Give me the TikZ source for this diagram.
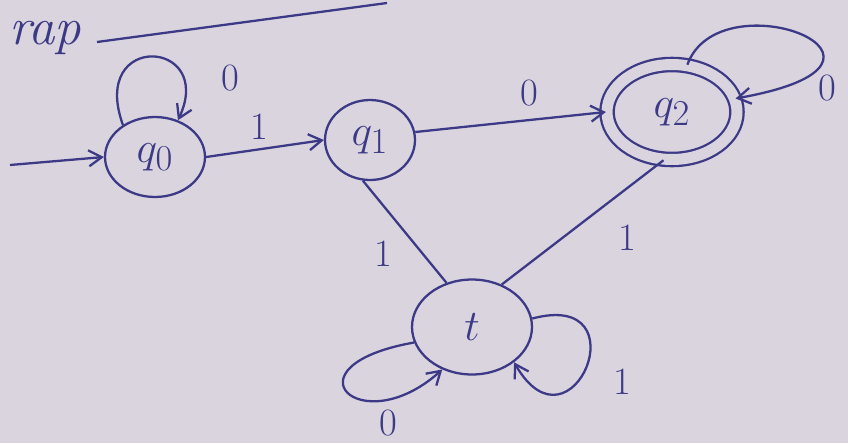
\documentclass[tikz,border=0pt]{standalone}
\usetikzlibrary{arrows.meta,positioning,shapes.geometric}
\definecolor{ink}{HTML}{3C3A86}
\definecolor{paper}{HTML}{D9D4DE}

\begin{document}
\begin{tikzpicture}[
    x=0.02cm, y=-0.02cm,
    >={Straight Barb[length=2.6mm,width=3.2mm]},
    line width=1.3pt,
    state/.style={draw=ink, shape=ellipse, text=ink, line width=1.3pt,
                  minimum width=2.0cm, minimum height=1.6cm, inner sep=0pt,
                  font=\fontsize{30}{36}\selectfont},
    accept/.style={state, double=paper, double distance=0.22cm},
    edge/.style={draw=ink, line width=1.3pt, ->},
    bare/.style={draw=ink, line width=1.3pt},
    lbl/.style={text=ink, inner sep=1pt, font=\fontsize{22}{26}\selectfont},
  ]

  % Paper and the cut-off heading.
  \useasboundingbox (0,0) rectangle (848,443);
  \fill[paper] (0,0) rectangle (848,443);
  \node[text=ink, font=\itshape\fontsize{30}{36}\selectfont] (head) at (45,38) {rap};
  \draw[bare] (97,42) -- (387,3);

  % States.
  \node[state] (q0) at (155,157) {$q_0$};
  \node[state, minimum width=1.8cm] (q1) at (370,140) {$q_1$};
  \node[accept, minimum width=2.6cm, minimum height=1.9cm] (q2) at (672,112) {$q_2$};
  \node[state, minimum width=2.4cm, minimum height=1.9cm] (t) at (472,327) {$t$};
  \coordinate (start) at (10,165);

  % Transitions.
  \draw[edge] (start) -- (q0.west);
  \draw[edge] (q0.east) -- (q1.west)
    node[lbl, pos=0.45, above=4pt] {1};
  \draw[edge] (q1.10) -- (q2.west)
    node[lbl, pos=0.6, above=6pt] {0};
  \draw[bare] (q1.260) -- (t.120)
    node[lbl, pos=0.72, left=16pt] {1};
  \draw[bare] (q2.260) -- (t.55)
    node[lbl, pos=0.62, right=30pt] {1};

  % Self-loops.
  \draw[edge] (q0.135) .. controls +(110:2.0cm) and +(65:1.8cm) .. (q0.58);
  \node[lbl] (l0) at (230,78) {0};
  \draw[edge] (q2.72) .. controls +(70:1.9cm) and +(10:4.2cm) .. (q2.12);
  \node[lbl] (l2) at (827,88) {0};
  \draw[edge] (t.195) .. controls +(190:2.7cm) and +(222:2.2cm) .. (t.235);
  \node[lbl] (lt0) at (388,423) {0};
  \draw[edge] (t.8) .. controls +(15:2.3cm) and +(-60:2.3cm) .. (t.-40);
  \node[lbl] (lt1) at (622,382) {1};
\end{tikzpicture}
\end{document}
